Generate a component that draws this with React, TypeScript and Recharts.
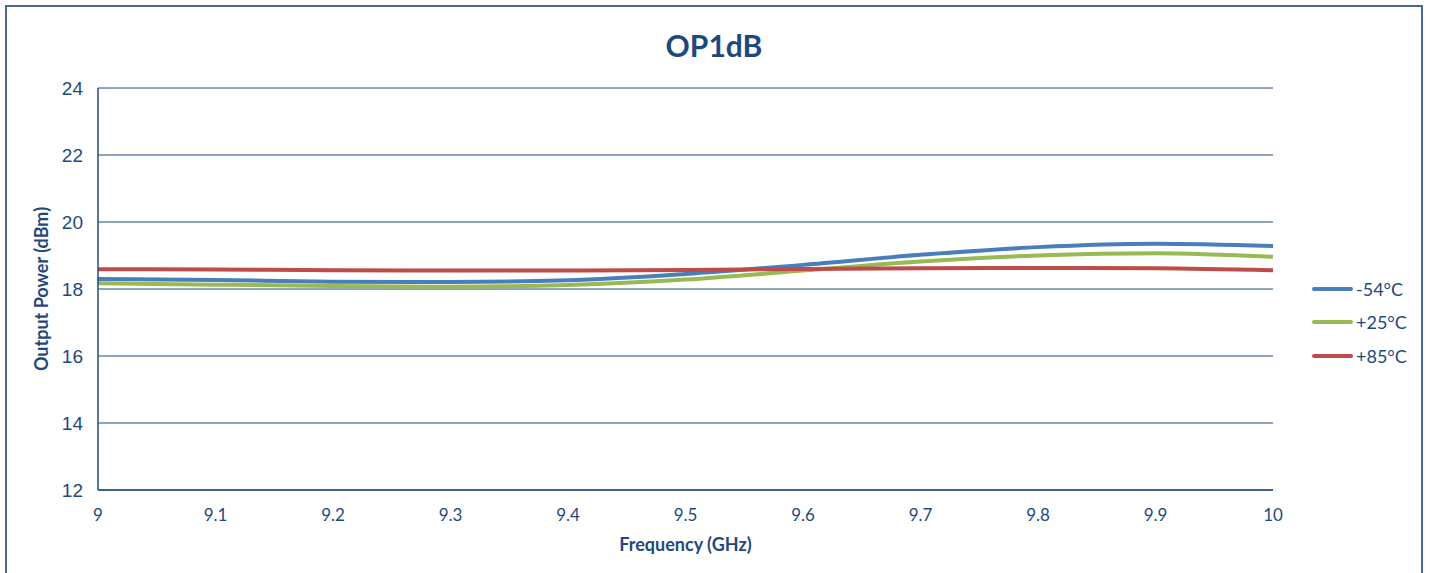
import React from 'react';
import { LineChart, Line, XAxis, YAxis, CartesianGrid, Label } from 'recharts';

const freqs = [9, 9.1, 9.2, 9.3, 9.4, 9.5, 9.6, 9.7, 9.8, 9.9, 10];
const cold = [18.3, 18.27, 18.22, 18.21, 18.26, 18.45, 18.72, 19.02, 19.25, 19.35, 19.28];
const room = [18.17, 18.13, 18.09, 18.07, 18.12, 18.28, 18.55, 18.82, 19.0, 19.07, 18.96];
const hot = [18.59, 18.58, 18.56, 18.55, 18.55, 18.57, 18.6, 18.62, 18.63, 18.62, 18.56];
const yTicks = [12, 14, 16, 18, 20, 22, 24];

const seriesNames = ['-54°C', '+25°C', '+85°C'];
const seriesColors = ['#4A7EBB', '#98B954', '#BE4B48'];

const data = freqs.map((f, i) => ({ f, s0: cold[i], s1: room[i], s2: hot[i] }));

const ink = '#1F497D';
const gridColor = '#264A7C';

export default function App() {
  return (
    <div style={{ position: 'fixed', left: 0, top: 0, width: 1430, height: 573, overflow: 'hidden', background: '#fff' }}>
      <div
        style={{
          position: 'absolute',
          left: 5,
          top: 5,
          width: 1414,
          height: 600,
          border: '2px solid #4A6A96',
          background: '#fff',
        }}
      >
        <div
          style={{
            position: 'absolute',
            left: 0,
            width: 1414,
            top: 20,
            textAlign: 'center',
            fontFamily: 'Lato',
            fontWeight: 'bold',
            fontSize: 30,
            color: ink,
          }}
        >
          OP1dB
        </div>
        {/* legend, right of the plot */}
        <div style={{ position: 'absolute', left: 1305, top: 265 }}>
          {seriesNames.map((name, i) => (
            <div key={name} style={{ display: 'flex', alignItems: 'center', height: 33.5 }}>
              <div style={{ width: 41, height: 4, borderRadius: 2, background: seriesColors[i], marginRight: 3 }} />
              <span style={{ fontFamily: 'Lato', fontSize: 18, color: ink }}>{name}</span>
            </div>
          ))}
        </div>
        <LineChart width={1414} height={590} data={data} margin={{ top: 81, right: 148, left: 0, bottom: 67 }}>
          <CartesianGrid horizontal vertical={false} stroke={gridColor} strokeWidth={1} />
          <XAxis
            dataKey="f"
            type="number"
            domain={[9, 10]}
            ticks={freqs}
            tickFormatter={(v: number) => String(Math.round(v * 10) / 10)}
            height={40}
            tickSize={0}
            tickMargin={19}
            axisLine={{ stroke: gridColor, strokeWidth: 1.5 }}
            tick={{ fill: ink, fontFamily: 'Lato', fontSize: 17 }}
          >
            <Label
              content={({ viewBox }: any) => (
                <text
                  x={viewBox.x + viewBox.width / 2}
                  y={539}
                  textAnchor="middle"
                  dominantBaseline="middle"
                  fill={ink}
                  fontFamily="Lato"
                  fontWeight="bold"
                  fontSize={18}
                >
                  Frequency (GHz)
                </text>
              )}
            />
          </XAxis>
          <YAxis
            domain={[12, 24]}
            ticks={yTicks}
            width={91}
            tickSize={0}
            tickMargin={15}
            axisLine={{ stroke: gridColor, strokeWidth: 1.5 }}
            tick={{ fill: ink, fontFamily: 'Liberation Sans', fontSize: 19 }}
          >
            <Label
              content={({ viewBox }: any) => {
                const cx = 36;
                const cy = viewBox.y + viewBox.height / 2;
                return (
                  <text
                    x={cx}
                    y={cy}
                    transform={`rotate(-90 ${cx} ${cy})`}
                    textAnchor="middle"
                    dominantBaseline="middle"
                    fill={ink}
                    fontFamily="Lato"
                    fontWeight="bold"
                    fontSize={18}
                  >
                    Output Power (dBm)
                  </text>
                );
              }}
            />
          </YAxis>
          {seriesNames.map((name, i) => (
            <Line
              key={name}
              name={name}
              dataKey={`s${i}`}
              type="monotone"
              stroke={seriesColors[i]}
              strokeWidth={4}
              dot={false}
              isAnimationActive={false}
            />
          ))}
        </LineChart>
      </div>
    </div>
  );
}
